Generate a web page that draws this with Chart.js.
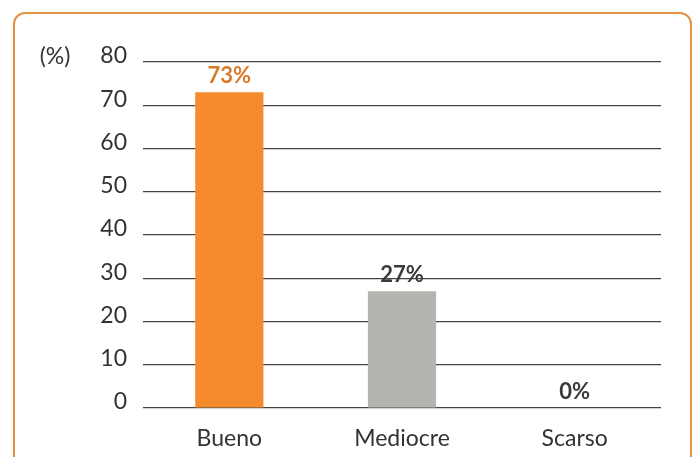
<!DOCTYPE html>
<html>
<head>
<meta charset="utf-8">
<script src="https://cdn.jsdelivr.net/npm/chart.js@4.4.0/dist/chart.umd.min.js"></script>
<style>
  html, body { margin: 0; padding: 0; background: #fff; }
  #wrap { position: relative; width: 699px; height: 457px; overflow: hidden; }
  #frame {
    position: absolute; left: 13px; top: 12px; width: 679px; height: 470px;
    border: 2px solid #e39245; border-radius: 12px; box-sizing: border-box;
  }
  canvas { position: absolute; left: 0; top: 0; }
</style>
</head>
<body>
<div id="wrap">
  <div id="frame"></div>
  <canvas id="chart" width="699" height="457"></canvas>
</div>
<script>
const categories = ['Bueno', 'Mediocre', 'Scarso'];
const values = [73, 27, 0];
const valueLabels = ['73%', '27%', '0%'];
const barColors = ['#f68b2e', '#b4b5b0', '#b4b5b0'];
const labelColors = ['#d97a2a', '#3a3a3a', '#3a3a3a'];
const yTicks = [0, 10, 20, 30, 40, 50, 60, 70, 80];

const fontFamily = 'Lato, "Noto Sans", sans-serif';

const extras = {
  id: 'extras',
  afterDatasetsDraw(chart) {
    const ctx = chart.ctx;
    const meta = chart.getDatasetMeta(0);
    ctx.save();
    ctx.textAlign = 'center';
    ctx.textBaseline = 'bottom';
    ctx.font = 'bold 22px ' + fontFamily;
    meta.data.forEach((bar, i) => {
      ctx.fillStyle = labelColors[i];
      ctx.fillText(valueLabels[i], bar.x, bar.y - 5);
    });
    // unit label next to the top tick
    const y = chart.scales.y.getPixelForValue(80);
    ctx.font = '23px ' + fontFamily;
    ctx.fillStyle = '#333';
    ctx.textBaseline = 'middle';
    ctx.fillText('(%)', 55, y - 5);
    ctx.restore();
  }
};

new Chart(document.getElementById('chart'), {
  type: 'bar',
  data: {
    labels: categories,
    datasets: [{
      data: values,
      backgroundColor: barColors,
      barPercentage: 1,
      categoryPercentage: 0.395,
    }],
  },
  options: {
    responsive: false,
    animation: false,
    layout: { padding: { top: 62, right: 38, left: 0, bottom: 0 } },
    plugins: { legend: { display: false }, tooltip: { enabled: false } },
    scales: {
      x: {
        grid: { display: false },
        border: { display: false },
        ticks: { color: '#333', font: { family: fontFamily, size: 23 }, padding: 9 },
        afterFit(axis) { axis.height = 49; },
      },
      y: {
        min: 0,
        max: 80,
        afterBuildTicks(axis) { axis.ticks = yTicks.map(v => ({ value: v })); },
        grid: { color: '#444', lineWidth: 1.2, drawTicks: false },
        border: { display: false },
        ticks: { color: '#333', font: { family: fontFamily, size: 23 }, padding: 16, labelOffset: -6 },
        afterFit(axis) { axis.width = 143; },
      },
    },
  },
  plugins: [extras],
});
</script>
</body>
</html>
